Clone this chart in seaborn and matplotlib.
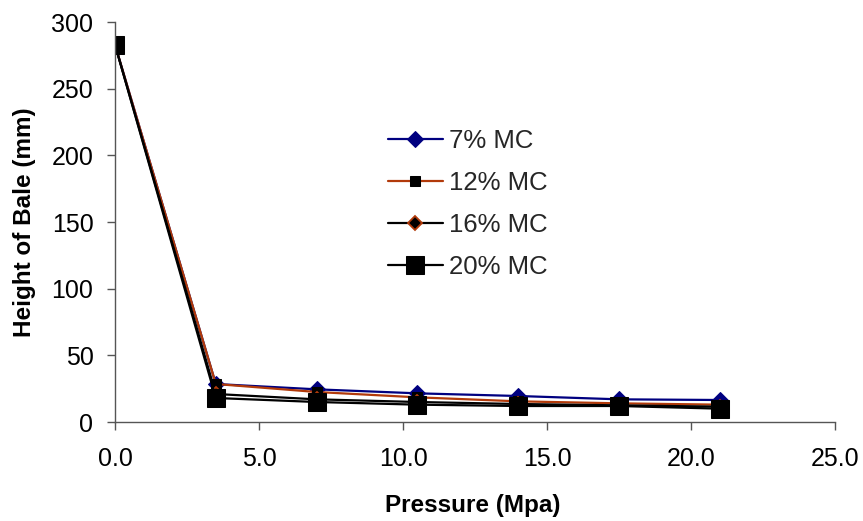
import matplotlib
matplotlib.use("Agg")
import matplotlib.pyplot as plt
import seaborn as sns
import pandas as pd

pressure = [0.0, 3.5, 7.0, 10.5, 14.0, 17.5, 21.0]
mc7 = [283, 28.5, 24.5, 21.5, 19.5, 17.0, 16.5]
mc12 = [283, 28.5, 22.5, 18.5, 15.5, 14.0, 13.0]
mc16 = [283, 21.0, 17.0, 15.0, 13.5, 12.5, 11.5]
mc20 = [283, 18.0, 15.0, 13.0, 12.0, 12.0, 10.0]
labels = ["7% MC", "12% MC", "16% MC", "20% MC"]
xticks = [0, 5, 10, 15, 20, 25]
yticks = [0, 50, 100, 150, 200, 250, 300]

sns.set_theme(style="white")
plt.rcParams['font.family'] = ['Liberation Sans', 'DejaVu Sans']

fig = plt.figure(figsize=(8.63, 5.21), dpi=100)
ax = fig.add_axes([115/863, 1-422/521, 720/863, 400/521])

styles = [
    dict(color="#000080", marker="D", markersize=8, markerfacecolor="#000080", markeredgecolor="#000080"),
    dict(color="#B23A0A", marker="s", markersize=7, markerfacecolor="black", markeredgecolor="black"),
    dict(color="black", marker="D", markersize=7, markerfacecolor="black", markeredgecolor="#B23A0A", markeredgewidth=1.3),
    dict(color="black", marker="s", markersize=12.5, markerfacecolor="black", markeredgecolor="black"),
]
for series, lab, st in zip([mc7, mc12, mc16, mc20], labels, styles):
    df = pd.DataFrame({"Pressure": pressure, "Height": series})
    sns.lineplot(data=df, x="Pressure", y="Height", ax=ax, label=lab, linewidth=1.6, **st)

ax.set_xlim(0, 25)
ax.set_ylim(0, 300)
ax.set_xticks(xticks)
ax.set_xticklabels([f"{v:.1f}" for v in xticks])
ax.set_yticks(yticks)
ax.set_yticklabels([str(v) for v in yticks])
for s in ["top", "right"]:
    ax.spines[s].set_visible(False)
for s in ["left", "bottom"]:
    ax.spines[s].set_color("#555555")
    ax.spines[s].set_linewidth(1.0)
ax.tick_params(axis="both", direction="out", length=6, width=1.0, color="#555555",
               labelsize=18, labelcolor="black", bottom=True, left=True)
ax.tick_params(axis="y", pad=9.5)
ax.tick_params(axis="x", pad=12)
ax.set_xlabel("Pressure (Mpa)", fontsize=17.5, fontweight="bold", color="black")
ax.set_ylabel("Height of Bale (mm)", fontsize=17.5, fontweight="bold", color="black")
ax.xaxis.set_label_coords(0.4965, -0.18)
ax.yaxis.set_label_coords(-0.1097, 0.5)
ax.xaxis.label.set_va("top")

leg = ax.legend(loc="upper left", bbox_to_anchor=(388/863, 1-129/521), bbox_transform=fig.transFigure,
                frameon=False, fontsize=18.5, handlelength=2.14, handletextpad=0.23, labelspacing=0.7,
                borderpad=0, borderaxespad=0)

fig.savefig("out.png", dpi=100)
